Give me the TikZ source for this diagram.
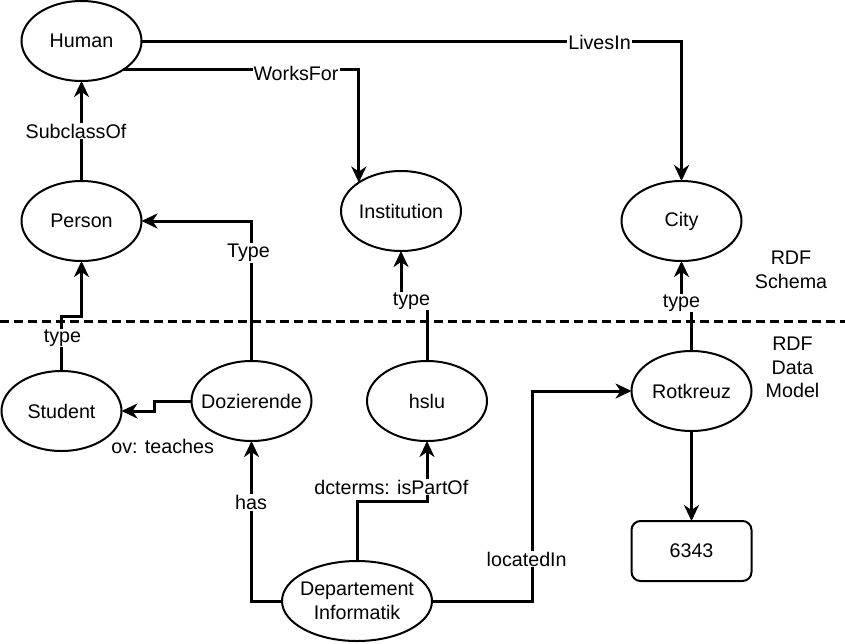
\documentclass[tikz,border=0pt]{standalone}
\usepackage{fontspec}
\setmainfont{Liberation Sans}
\usetikzlibrary{shapes.geometric,arrows.meta,calc}
\newcommand\lblfont{\fontsize{19.7pt}{23.5pt}\selectfont}
\tikzset{
  note/.style={inner sep=0pt, font=\lblfont, align=center},
  ent/.style={ellipse, draw, line width=2pt, minimum width=120pt, minimum height=80pt,
    inner sep=0pt, outer sep=0pt, label={[note]center:#1}},
  valbox/.style={rectangle, rounded corners=9pt, draw, line width=2pt, minimum width=120pt,
    minimum height=60pt, inner sep=0pt, outer sep=0pt, font=\lblfont},
  conn/.style={line width=3pt, -{Stealth[length=16pt,width=15pt,inset=5pt]}},
  lbl/.style={fill=white, inner sep=1pt, font=\lblfont},
}
\begin{document}
\begin{tikzpicture}[x=1pt,y=-1pt]
\useasboundingbox (0,0) rectangle (845,643);
% separator
\coordinate (dl) at (0,321.5);
\coordinate (dr) at (845,321.5);
\draw[line width=3pt, dash pattern=on 9pt off 5pt] (dl) -- (dr);

% nodes
\node[ent=Human] (human) at (81.5,41) {};
\node[ent=Person] (person) at (81.5,221) {};
\node[ent=Institution] (institution) at (401,211) {};
\node[ent=City] (city) at (681.5,221) {};
\node[ent=Student] (student) at (61.5,411) {};
\node[ent=Dozierende] (doz) at (251.5,401) {};
\node[ent=hslu] (hslu) at (427,401) {};
\node[ent=Rotkreuz] (rot) at (691.5,391) {};
\node[valbox] (plz) at (691.5,551) {6343};
\node[ent={Departement\\Informatik}, minimum width=150pt] (dept) at (357,601) {};

\node[note] (schema) at (791,270) {RDF\\Schema};
\node[note] (datamodel) at (792.5,367.5) {RDF\\Data\\Model};

% edges
\draw[conn] (human.east) -| (city.north);
\draw[conn] (human.-35) -| (institution.146);
\draw[conn] (person.north) -- (human.south);
\draw[conn] (student.north) -- ++(0,-55) -| (person.south);
\draw[conn] (doz.north) |- (person.east);
\draw[conn] (doz.west) -- ++(-37,0) |- (student.east);
\draw[conn] (dept.west) -| (doz.south);
\draw[conn] (dept.north) -- ++(0,-60) -| (hslu.south);
\draw[conn] (dept.east) -- ++(100,0) |- (rot.west);
\draw[conn] (rot.south) -- (plz.north);
\draw[conn] (hslu.north) -- ++(0,-60) -| (institution.south);
\draw[conn] (rot.north) -- ++(0,-47) -| (city.south);

% labels
\node[lbl] at (599.5,42) {LivesIn};
\node[lbl] at (296,73) {WorksFor};
\node[lbl] at (76,131) {SubclassOf};
\node[lbl] at (248.5,253) {Type};
\node[lbl] at (62.5,338) {type};
\node[lbl] at (162.7,446.5) {ov: teaches};
\node[lbl] at (251,502.5) {has};
\node[lbl] at (391.3,487) {dcterms: isPartOf};
\node[lbl] at (526.7,559) {locatedIn};
\node[lbl] at (411.5,301) {type};
\node[lbl] at (681.5,303) {type};
\end{tikzpicture}
\end{document}
